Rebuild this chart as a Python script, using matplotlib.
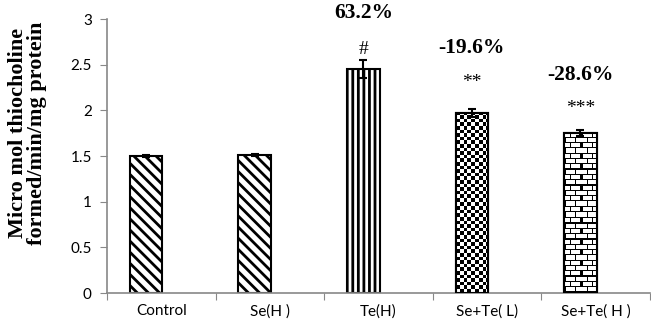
import numpy as np
import matplotlib
matplotlib.use('Agg')
import matplotlib.pyplot as plt

# data
groups = ['Control', 'Se(H )', 'Te(H)', 'Se+Te( L)', 'Se+Te( H )']
means = [1.50, 1.51, 2.45, 1.97, 1.75]
errors = [0.01, 0.01, 0.10, 0.04, 0.03]
sig_marks = ['', '', '#', '**', '***']
sig_y = [None, None, 2.67, 2.30, 2.02]
pct_labels = ['', '', '63.2%', '-19.6%', '-28.6%']
pct_y = [None, None, 3.07, 2.68, 2.39]
hatches = ['\\\\\\', '\\\\\\', '|||', 'checker', 'brick']

plt.rcParams['hatch.linewidth'] = 2.0

fig = plt.figure(figsize=(6.51, 3.28), dpi=100)
ax = fig.add_axes([0.1644, 0.1067, 0.834, 0.8353])

bar_w = 0.30
offset = -0.14
x = np.arange(len(groups)) + 0.5 + offset
px_per_y = 91.3  # approx pixel size of one y unit
px_per_x = 108.5


def pattern(kind, h_px, w_px):
    yy, xx = np.mgrid[0:h_px, 0:w_px]
    if kind == 'checker':
        cell = 3.6
        img = ((np.floor(xx / cell) + np.floor(yy / cell)) % 2)
    else:
        row_h = 5.3
        brick_w = 10.6
        row = np.floor(yy / row_h)
        in_row = yy - row * row_h
        shift = (row % 2) * brick_w / 2
        xs = (xx + shift) % brick_w
        img = ((in_row < 1.2) | (xs < 1.2)).astype(float)
    return 1 - img


for i in range(len(groups)):
    h = hatches[i]
    if h in ('checker', 'brick'):
        bar = ax.bar(x[i], means[i], bar_w, color='white', edgecolor='black',
                     linewidth=1.5, zorder=2)[0]
        img = pattern(h, int(means[i] * px_per_y), int(bar_w * px_per_x))
        im = ax.imshow(img, cmap='gray', vmin=0, vmax=1, interpolation='nearest',
                       extent=[x[i] - bar_w / 2, x[i] + bar_w / 2, 0, means[i]],
                       origin='lower', aspect='auto', zorder=2.5)
        im.set_clip_path(bar)
        ax.bar(x[i], means[i], bar_w, fill=False, edgecolor='black',
               linewidth=1.5, zorder=3)
    else:
        ax.bar(x[i], means[i], bar_w, color='white', edgecolor='black',
               hatch=h, linewidth=1.5, zorder=2)

ax.errorbar(x, means, yerr=errors, fmt='none', ecolor='black',
            elinewidth=1.5, capsize=3, capthick=1.5, zorder=4)

for i in range(len(groups)):
    if sig_marks[i]:
        ax.text(x[i], sig_y[i], sig_marks[i], ha='center', va='center',
                fontsize=14, family='Liberation Serif', clip_on=False)
    if pct_labels[i]:
        ax.text(x[i], pct_y[i], pct_labels[i], ha='center', va='center',
                fontsize=15.5, fontweight='bold', family='Liberation Serif',
                clip_on=False)

ax.set_xlim(0, len(groups))
ax.set_ylim(0, 3)
ax.set_yticks(np.arange(0, 3.01, 0.5))
ax.set_yticklabels(['0', '0.5', '1', '1.5', '2', '2.5', '3'])
ax.set_xticks(np.arange(0, len(groups) + 1))
ax.set_xticklabels([])
ax.set_xticks(np.arange(len(groups)) + 0.5, minor=True)
ax.set_xticklabels(groups, minor=True)
ax.tick_params(axis='x', which='minor', length=0, pad=8)
ax.tick_params(axis='x', which='major', length=5, color='#888888', direction='out')
ax.tick_params(axis='y', length=5, color='#888888', direction='out', pad=6)
for lab in ax.get_xticklabels(minor=True) + ax.get_yticklabels():
    lab.set_family('Lato')
    lab.set_fontsize(11)

for s in ['top', 'right']:
    ax.spines[s].set_visible(False)
for s in ['left', 'bottom']:
    ax.spines[s].set_color('#888888')
    ax.spines[s].set_linewidth(1.2)

fig.text(0.042, 0.595, 'Micro mol thiocholine\nformed/min/mg protein', rotation=90,
         ha='center', va='center', fontsize=16, fontweight='bold',
         family='Liberation Serif', linespacing=0.95)

fig.savefig('out.png', dpi=100)
